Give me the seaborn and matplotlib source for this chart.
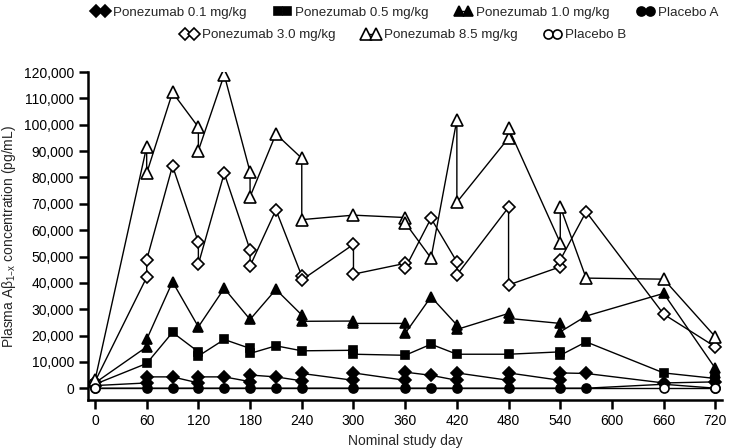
import numpy as np
import pandas as pd
import matplotlib
matplotlib.use("Agg")
import matplotlib.pyplot as plt
from matplotlib.ticker import FuncFormatter
import seaborn as sns

# values (two values on one day = two samples that day)
day_01 = [0, 60, 60, 90, 120, 120, 150, 180, 180, 210, 240, 240, 300, 300, 360, 360,
          390, 420, 420, 480, 480, 540, 540, 570, 660, 720]
conc_01 = [1000, 2000, 4300, 4300, 2000, 4300, 4300, 2500, 5000, 4300, 2800, 5600, 3000, 5800,
           3000, 6100, 4900, 3000, 5800, 3000, 5800, 3000, 5800, 5600, 2000, 2400]

day_05 = [0, 60, 90, 120, 120, 150, 180, 180, 210, 240, 300, 300, 360, 390, 420, 480,
          540, 540, 570, 660, 720]
conc_05 = [1500, 9400, 21200, 13800, 12200, 18500, 15100, 13200, 16100, 14200, 14400, 12900,
           12500, 16700, 12900, 12900, 13800, 12500, 17600, 5800, 3700]

day_10 = [0, 60, 60, 90, 120, 150, 180, 210, 240, 240, 300, 300, 360, 360, 390, 420, 420,
          480, 480, 540, 540, 570, 660, 720, 720]
conc_10 = [2000, 15700, 18500, 40400, 23300, 37900, 26100, 37500, 27800, 25400, 25500, 24600,
           24600, 20800, 34700, 24000, 22300, 28400, 26500, 24600, 21400, 27400, 36000, 7500, 5600]

day_pa = [0, 60, 90, 120, 150, 180, 210, 240, 300, 360, 390, 420, 480, 540, 570, 660, 720]
conc_pa = [0, 0, 0, 0, 0, 0, 0, 0, 0, 0, 0, 0, 0, 0, 0, 1500, 0]

day_30 = [0, 60, 60, 90, 120, 120, 150, 180, 180, 210, 240, 240, 300, 300, 360, 360, 390,
          420, 420, 480, 480, 540, 540, 570, 660, 720]
conc_30 = [2500, 42100, 48700, 84400, 55400, 47100, 81600, 52500, 46400, 67700, 42600, 41100,
           54600, 43300, 47400, 45500, 64500, 48000, 43000, 68700, 39200, 46100, 48700, 67000,
           28100, 15700]

day_85 = [0, 60, 60, 90, 120, 120, 150, 180, 180, 210, 240, 240, 300, 360, 360, 390, 420,
          420, 480, 480, 540, 540, 570, 660, 720]
conc_85 = [3000, 91700, 81600, 112300, 99100, 90200, 119000, 82100, 72700, 96500, 87300, 64000,
           65700, 64800, 62800, 49400, 101900, 70600, 95000, 98700, 55200, 68900, 41800, 41400,
           19500]

day_pb = [0, 660, 720]
conc_pb = [0, 0, 0]

series = [
    ("Ponezumab 0.1 mg/kg", day_01, conc_01, "D", "black", 6.3),
    ("Ponezumab 0.5 mg/kg", day_05, conc_05, "s", "black", 6.0),
    ("Ponezumab 1.0 mg/kg", day_10, conc_10, "^", "black", 7.5),
    ("Placebo A", day_pa, conc_pa, "o", "black", 6.5),
    ("Ponezumab 3.0 mg/kg", day_30, conc_30, "D", "white", 6.3),
    ("Ponezumab 8.5 mg/kg", day_85, conc_85, "^", "white", 8.0),
    ("Placebo B", day_pb, conc_pb, "o", "white", 6.5),
]

sns.set_style("ticks")
plt.rcParams['font.family'] = ['Liberation Sans', 'DejaVu Sans']

fig = plt.figure(figsize=(7.34, 4.48), dpi=100)
ax = fig.add_axes([0.12, 0.107, 0.864, 0.732])

for name, d, c, m, face, ms in series:
    df = pd.DataFrame({"day": d, "conc": c})
    sns.lineplot(data=df, x="day", y="conc", ax=ax, sort=False, estimator=None,
                 color="black", lw=1.0, marker=m, ms=ms, mfc=face, mec="black",
                 mew=1.2, label=name)

ax.set_xlim(-8, 728)
ax.set_ylim(-4500, 120000)
ax.set_xticks(np.arange(0, 721, 60))
ax.set_yticks(np.arange(0, 120001, 10000))
ax.yaxis.set_major_formatter(FuncFormatter(lambda v, p: f"{int(v):,}"))
ax.tick_params(labelsize=10, length=6.5, width=1.8, color="black", labelcolor="black")
for s in ["left", "bottom"]:
    ax.spines[s].set_linewidth(1.8)
    ax.spines[s].set_color("black")
sns.despine(ax=ax)

ax.set_xlabel("Nominal study day", fontsize=10)
ax.set_ylabel(r"Plasma Aβ$_{\mathregular{1–x}}$ concentration (pg/mL)", fontsize=10)

handles, labels = ax.get_legend_handles_labels()
ax.get_legend().remove()
kw = dict(frameon=False, fontsize=9.6, handlelength=1.3, handletextpad=0.3,
          columnspacing=2.0, numpoints=2, loc="upper center", borderaxespad=0)
fig.legend(handles[:4], labels[:4], ncol=4, bbox_to_anchor=(0.552, 0.997), **kw)
fig.legend(handles[4:], labels[4:], ncol=3, bbox_to_anchor=(0.55, 0.947), **kw)

fig.savefig("out.png", dpi=100)
